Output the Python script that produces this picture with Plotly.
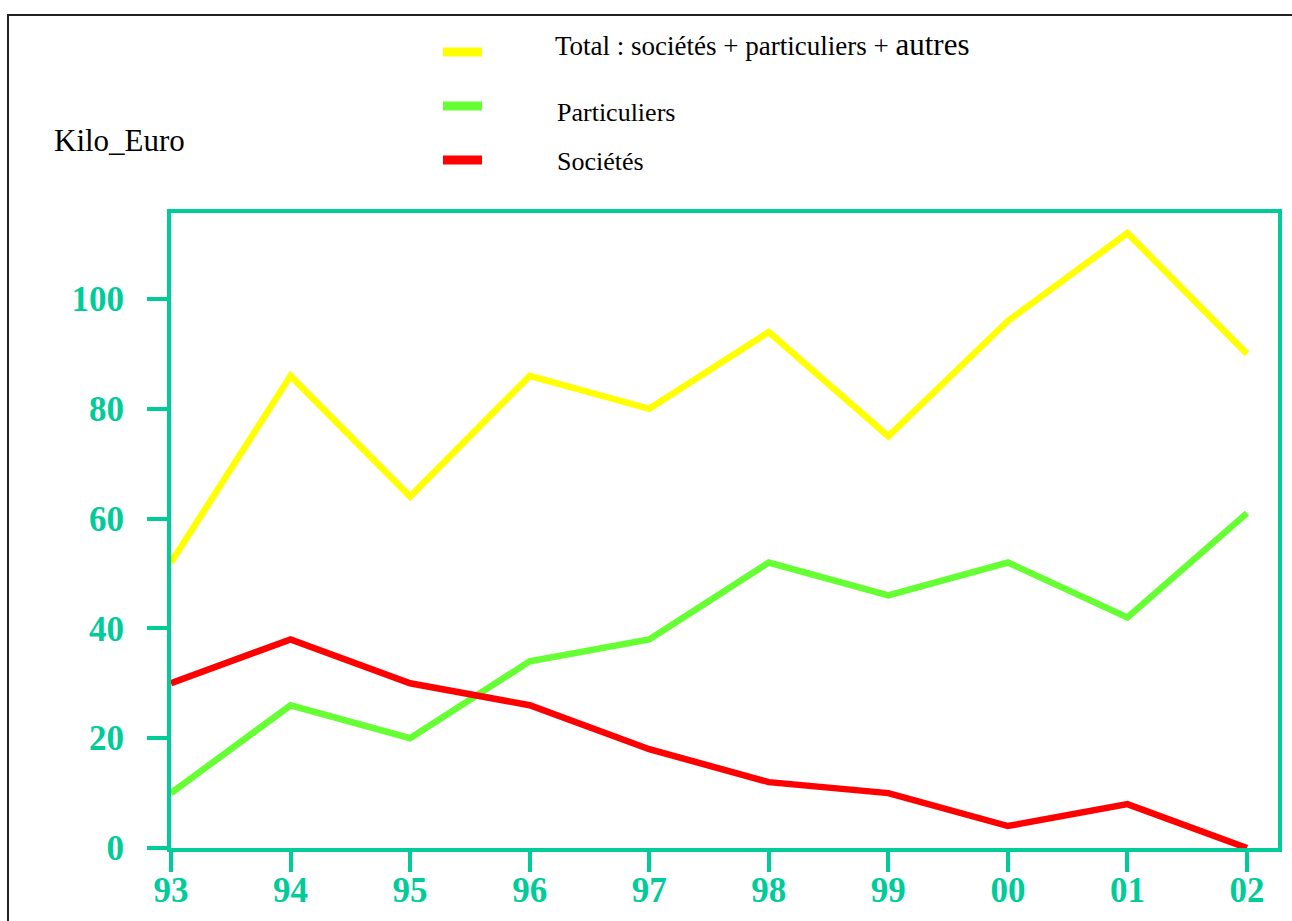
import plotly.graph_objects as go

# ---- data ----
years = ["93", "94", "95", "96", "97", "98", "99", "00", "01", "02"]
total = [52, 86, 64, 86, 80, 94, 75, 96, 112, 90]
particuliers = [10, 26, 20, 34, 38, 52, 46, 52, 42, 61]
societes = [30, 38, 30, 26, 18, 12, 10, 4, 8, 0]
y_ticks = [0, 20, 40, 60, 80, 100]

series_names = ["Total : sociétés + particuliers + autres", "Particuliers", "Sociétés"]
colors = ["#FFFF00", "#66FF33", "#FF0000"]
teal = "#00CC99"

W, H = 1292, 921
L, R, T, B = 171, 1278, 213, 848  # plot area in pixels
pw, ph = R - L, B - T


def px_x(px):
    return (px - L) / pw


def px_y(py):
    return (B - py) / ph


xidx = list(range(len(years)))
fig = go.Figure()
for vals, col in zip([total, particuliers, societes], colors):
    fig.add_trace(go.Scatter(x=xidx, y=vals, mode="lines",
                             line=dict(color=col, width=6.5), cliponaxis=False,
                             showlegend=False, hoverinfo="skip"))

tickfont = dict(family="Liberation Serif", size=35, color=teal, weight="bold")
x_step = (1247 - 171) / 9.0
fig.update_xaxes(range=[0, pw / x_step], tickmode="array", tickvals=xidx, ticktext=years,
                 showline=True, mirror=True, linecolor=teal, linewidth=4,
                 ticks="outside", ticklen=20, tickwidth=4, tickcolor=teal,
                 showgrid=False, zeroline=False, tickfont=tickfont, fixedrange=True,
                 automargin=False, ticklabelstandoff=-12)
fig.update_yaxes(range=[0, ph / 5.49], tickmode="array", tickvals=y_ticks,
                 showline=True, mirror=True, linecolor=teal, linewidth=4,
                 ticks="outside", ticklen=20, tickwidth=4, tickcolor=teal,
                 showgrid=False, zeroline=False, tickfont=tickfont,
                 ticklabelstandoff=16, fixedrange=True, automargin=False)

shapes = []
# outer black frame
shapes.append(dict(type="rect", xref="paper", yref="paper",
                   x0=px_x(8), x1=px_x(1310), y0=px_y(940), y1=px_y(15),
                   line=dict(color="#222222", width=2), fillcolor="rgba(0,0,0,0)"))
# legend swatches
for col, cy in zip(colors, [52, 106, 160]):
    shapes.append(dict(type="line", xref="paper", yref="paper",
                       x0=px_x(443), x1=px_x(482), y0=px_y(cy), y1=px_y(cy),
                       line=dict(color=col, width=9)))

serif = dict(family="Liberation Serif", color="#000000")
annotations = [
    dict(text="Kilo_Euro", x=px_x(52), y=px_y(140), xanchor="left", yanchor="middle",
         font=dict(size=31, **serif)),
    dict(text="Total : sociétés + particuliers + <span style='font-size:31px'>autres</span>",
         x=px_x(553), y=px_y(44), xanchor="left", yanchor="middle",
         font=dict(size=27, **serif)),
    dict(text=series_names[1], x=px_x(555), y=px_y(112), xanchor="left", yanchor="middle",
         font=dict(size=26, **serif)),
    dict(text=series_names[2], x=px_x(555), y=px_y(161), xanchor="left", yanchor="middle",
         font=dict(size=26, **serif)),
]
for a in annotations:
    a.update(xref="paper", yref="paper", showarrow=False)

fig.update_layout(width=W, height=H, margin=dict(l=L, r=W - R, t=T, b=H - B),
                  paper_bgcolor="white", plot_bgcolor="white",
                  shapes=shapes, annotations=annotations, showlegend=False)

fig.write_html("out.html", config={"displayModeBar": False},
               post_script="document.body.style.margin='0';document.body.style.overflow='hidden';")
